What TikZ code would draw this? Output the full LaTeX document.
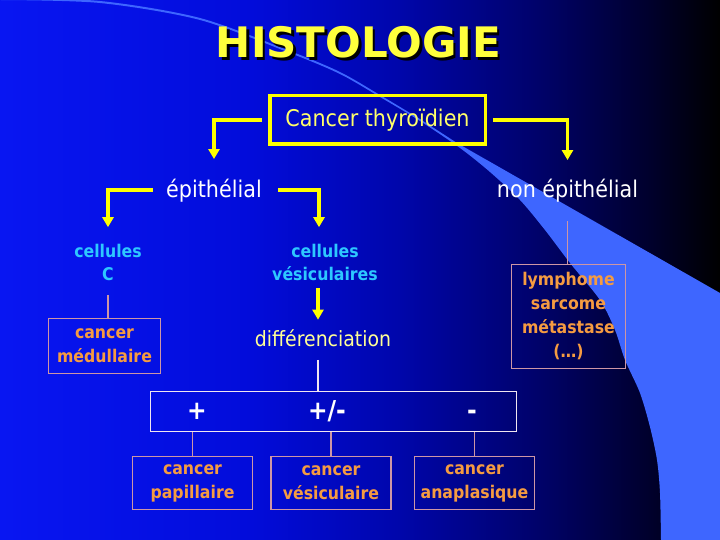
\documentclass[tikz,border=0pt]{standalone}
\usepackage{fontspec}
\setmainfont{DejaVu Sans}[FakeStretch=0.9]
\newfontfamily\titlefont{DejaVu Sans}
\usetikzlibrary{arrows.meta}
\definecolor{bgA}{RGB}{8,22,242}
\definecolor{bgB}{RGB}{2,12,218}
\definecolor{bgC}{RGB}{0,6,172}
\definecolor{bgD}{RGB}{0,2,105}
\definecolor{bgE}{RGB}{0,0,45}
\definecolor{bandc}{RGB}{62,102,255}
\definecolor{ylw}{RGB}{255,255,0}
\definecolor{titley}{RGB}{255,255,60}
\definecolor{paley}{RGB}{255,255,105}
\definecolor{diffy}{RGB}{255,255,150}
\definecolor{cyanc}{RGB}{45,200,255}
\definecolor{orangec}{RGB}{245,155,65}
\definecolor{pinkline}{RGB}{205,150,165}
\definecolor{whitish}{RGB}{240,230,240}
\pgfdeclarehorizontalshading{bgshade}{100bp}{color(0bp)=(bgA); color(25bp)=(bgA); color(42.5bp)=(bgB); color(52.5bp)=(bgC); color(62.5bp)=(bgD); color(70bp)=(bgE); color(75bp)=(black); color(100bp)=(black)}
\tikzset{
  wtext/.style={text=white, font=\fontsize{23}{28}\selectfont},
  cyantext/.style={text=cyanc, font=\bfseries\fontsize{17.5}{23}\selectfont, align=center},
  orbox/.style={draw=pinkline, line width=1.3pt, text=orangec, font=\bfseries\fontsize{17.5}{24}\selectfont, align=center, inner sep=0pt},
  yarrow/.style={draw=ylw, line width=3.5pt, -{Triangle[width=11pt,length=10pt]}},
  pline/.style={draw=pinkline, line width=1.3pt},
  wline/.style={draw=whitish, line width=1.3pt},
  signtext/.style={text=white, font=\bfseries\fontsize{26}{30}\selectfont, anchor=base},
}
\begin{document}
\begin{tikzpicture}[x=1pt,y=-1pt]
\useasboundingbox (0,0) rectangle (720,540);
\shade[shading=bgshade] (0,0) rectangle (720,540);
\fill[bandc] plot[smooth] coordinates {(0,0) (100,3) (200,20) (290,53) (340,74) (380,97) (420,121) (460,148) (490,172) (520,200) (545,230) (570,263) (600,300) (615,330) (625,360) (640,393) (650,427) (657,460) (660,493) (661,540)} -- (720,540) -- (720,293) -- (457,143) -- plot[smooth] coordinates {(420,119) (380,95) (340,72) (290,51) (200,18) (100,1) (0,-2)} -- cycle;

% title
\node[text=black, font=\titlefont\bfseries\fontsize{42}{50}\selectfont, anchor=base] (titleshadow) at (361,60.5) {HISTOLOGIE};
\node[text=titley, font=\titlefont\bfseries\fontsize{42}{50}\selectfont, anchor=base] (title) at (358.5,58) {HISTOLOGIE};

% root
\node[draw=ylw, line width=3.5pt, text=paley, font=\fontsize{23}{28}\selectfont, minimum width=215.5pt, minimum height=48.5pt, inner sep=0pt] (root) at (377.5,120) {Cancer thyroïdien};

\node[wtext, anchor=base] (epi) at (214,197) {épithélial};
\node[wtext, anchor=base] (nonepi) at (567.5,198) {non épithélial};

\draw[yarrow, shorten <=6pt, shorten >=16pt] (root.west) -| (epi.north);
\draw[yarrow, shorten <=6pt, shorten >=16pt] (root.east) -| (nonepi.north);

\node[cyantext] (cellC) at (108,262) {cellules\\C};
\node[cyantext] (cellV) at (325,262) {cellules\\vésiculaires};

\draw[yarrow, shorten <=10pt, shorten >=13pt] (epi.west) -| (cellC.north);
\draw[yarrow, shorten <=13pt, shorten >=13pt] (epi.east) -| ([xshift=-6pt]cellV.north);

\node[orbox, minimum width=112pt, minimum height=55pt] (med) at (104.5,346) {cancer\\médullaire};
\draw[pline, shorten <=11pt] (cellC.south) -- (cellC.south |- med.north);

\node[text=diffy, font=\fontsize{21}{26}\selectfont, anchor=base] (diff) at (323,346) {différenciation};
\draw[yarrow, shorten <=4pt, shorten >=6pt] ([xshift=-7pt]cellV.south) -- ([xshift=-5pt]diff.north);

\node[draw=whitish, line width=1.3pt, minimum width=366pt, minimum height=40pt, inner sep=0pt] (big) at (333.5,411.5) {};
\node[signtext] (pos) at (197,419) {+};
\node[signtext] (mid) at (327,419) {+/-};
\node[signtext] (neg) at (472,419) {-};
\draw[wline, shorten <=10pt] ([xshift=-5pt]diff.south) -- ([xshift=-5pt]diff.south |- big.north);

\node[orbox, minimum width=120pt, minimum height=53pt] (pap) at (192.5,483) {cancer\\papillaire};
\node[orbox, minimum width=120pt, minimum height=53pt] (ves) at (331,483) {cancer\\vésiculaire};
\node[orbox, minimum width=120pt, minimum height=53pt] (ana) at (474.5,483) {cancer\\anaplasique};
\draw[pline] (big.south -| pap.north) -- (pap.north);
\draw[pline] (big.south -| ves.north) -- (ves.north);
\draw[pline] (big.south -| ana.north) -- (ana.north);

\node[orbox, minimum width=114pt, minimum height=104pt] (lym) at (568.5,316.5) {lymphome\\sarcome\\métastase\\(…)};
\draw[pline, shorten <=15pt] (nonepi.south) -- (nonepi.south |- lym.north);
\end{tikzpicture}
\end{document}
